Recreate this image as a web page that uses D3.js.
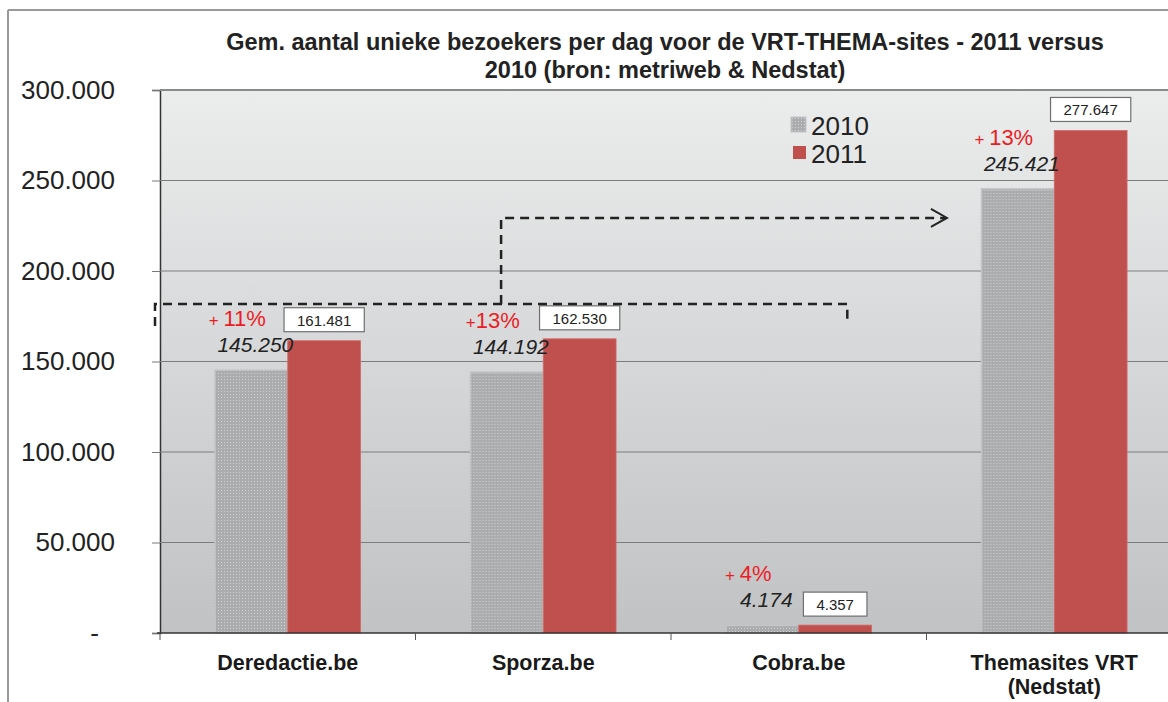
<!DOCTYPE html>
<html>
<head>
<meta charset="utf-8">
<script src="https://cdn.jsdelivr.net/npm/d3@7"></script>
<style>
  html, body { margin: 0; padding: 0; background: #fff; }
  svg { display: block; font-family: "Liberation Sans", Arial, sans-serif; }
</style>
</head>
<body>
<div id="chart"></div>
<script>
(function () {
  'use strict';

  // ── Data ──────────────────────────────────────────────────────────────────
  const CATEGORIES = ['Deredactie.be', 'Sporza.be', 'Cobra.be', 'Themasites VRT\n(Nedstat)'];
  const SERIES = ['2010', '2011'];
  const VALUES_2010 = [145250, 144192, 4174, 245421];
  const VALUES_2011 = [161481, 162530, 4357, 277647];
  const LABELS_2010 = ['145.250', '144.192', '4.174', '245.421'];
  const LABELS_2011 = ['161.481', '162.530', '4.357', '277.647'];
  const GROWTH = ['+ 11%', '+13%', '+ 4%', '+ 13%'];
  const Y_TICKS = [0, 50000, 100000, 150000, 200000, 250000, 300000];
  const Y_TICK_LABELS = ['-', '50.000', '100.000', '150.000', '200.000', '250.000', '300.000'];
  const TITLE = ['Gem. aantal unieke bezoekers per dag voor de VRT-THEMA-sites - 2011 versus',
                 '2010 (bron: metriweb & Nedstat)'];
  // bracket + arrow annotation levels (in data units)
  const BRACKET_LEVEL = 181800;
  const ARROW_LEVEL = 229300;

  const width = 1168, height = 702;
  const margin = { top: 90, left: 160, bottom: 69 };
  const plotRight = 1182;

  const svg = d3.select('#chart').append('svg')
    .attr('width', width).attr('height', height);

  const defs = svg.append('defs');
  const grad = defs.append('linearGradient').attr('id', 'bg')
    .attr('x1', 0).attr('y1', 0).attr('x2', 0).attr('y2', 1);
  grad.append('stop').attr('offset', '0%').attr('stop-color', '#ebecec');
  grad.append('stop').attr('offset', '100%').attr('stop-color', '#c1c2c4');

  const pat = defs.append('pattern').attr('id', 'stipple')
    .attr('width', 3).attr('height', 3).attr('patternUnits', 'userSpaceOnUse');
  pat.append('rect').attr('width', 3).attr('height', 3).attr('fill', '#abacae');
  pat.append('rect').attr('x', 1).attr('y', 1).attr('width', 1).attr('height', 1).attr('fill', '#cfd0d2');

  // ── Scales ────────────────────────────────────────────────────────────────
  const x0 = d3.scaleBand().domain(CATEGORIES).range([margin.left, plotRight]).padding(0);
  const x1 = d3.scaleBand().domain(SERIES).range([x0.bandwidth() * 0.215, x0.bandwidth() * 0.785]).padding(0);
  const y = d3.scaleLinear().domain([0, 300000]).range([height - margin.bottom, margin.top]);
  const zeroY = y(0);

  // outer frame
  svg.append('line').attr('x1', 8).attr('x2', width).attr('y1', 10).attr('y2', 10)
    .attr('stroke', '#9a9a9a').attr('stroke-width', 2);
  svg.append('line').attr('x1', 8).attr('x2', 8).attr('y1', 10).attr('y2', height)
    .attr('stroke', '#9a9a9a').attr('stroke-width', 2);

  // plot background
  svg.append('rect')
    .attr('x', margin.left).attr('y', margin.top)
    .attr('width', plotRight - margin.left).attr('height', zeroY - margin.top)
    .attr('fill', 'url(#bg)');

  // y axis with grid
  const yAxis = svg.append('g')
    .attr('transform', `translate(${margin.left},0)`)
    .call(d3.axisLeft(y).tickValues(Y_TICKS).tickSize(8).tickPadding(37)
      .tickFormat((d, i) => Y_TICK_LABELS[i]));
  yAxis.select('.domain').attr('stroke', '#333').attr('stroke-width', 1.5);
  yAxis.selectAll('.tick line').attr('stroke', '#777');
  yAxis.selectAll('.tick text').attr('font-size', 26).attr('fill', '#222')
    .attr('font-family', '"Liberation Sans", Arial, sans-serif')
    .filter(d => d === 0).attr('dx', -16);

  svg.append('g').selectAll('line').data(Y_TICKS.slice(1)).enter().append('line')
    .attr('x1', margin.left).attr('x2', plotRight)
    .attr('y1', d => y(d)).attr('y2', d => y(d))
    .attr('stroke', d => d === 300000 ? '#8a8a8a' : '#7d7d7d')
    .attr('stroke-width', d => d === 300000 ? 2 : 1);

  // bars
  const rows = CATEGORIES.map((c, i) => ({ cat: c, i, v10: VALUES_2010[i], v11: VALUES_2011[i] }));
  const groups = svg.append('g').selectAll('g').data(rows).enter().append('g')
    .attr('transform', d => `translate(${x0(d.cat)},0)`);

  groups.append('rect')
    .attr('x', x1('2010')).attr('width', x1.bandwidth())
    .attr('y', d => y(d.v10)).attr('height', d => zeroY - y(d.v10))
    .attr('fill', 'url(#stipple)').attr('stroke', '#c4c5c7').attr('stroke-width', 1.5);

  groups.append('rect')
    .attr('x', x1('2011')).attr('width', x1.bandwidth())
    .attr('y', d => y(d.v11)).attr('height', d => zeroY - y(d.v11))
    .attr('fill', '#c0504d').attr('stroke', '#d06a67').attr('stroke-width', 0.8);

  // x axis
  svg.append('line').attr('x1', margin.left - 3).attr('x2', plotRight)
    .attr('y1', zeroY).attr('y2', zeroY).attr('stroke', '#333').attr('stroke-width', 1.5);
  svg.append('g').selectAll('line').data(CATEGORIES).enter().append('line')
    .attr('x1', d => x0(d)).attr('x2', d => x0(d))
    .attr('y1', zeroY).attr('y2', zeroY + 7).attr('stroke', '#555');

  const catText = svg.append('g').selectAll('text').data(CATEGORIES).enter().append('text')
    .attr('x', d => x0(d) + x0.bandwidth() / 2)
    .attr('y', zeroY + 37)
    .attr('text-anchor', 'middle')
    .attr('font-size', 21.5).attr('font-weight', 700).attr('fill', '#1a1a1a');
  catText.each(function (d) {
    d.split('\n').forEach((ln, k) => {
      d3.select(this).append('tspan')
        .attr('x', x0(d) + x0.bandwidth() / 2)
        .attr('dy', k === 0 ? 0 : 24)
        .text(ln);
    });
  });

  // value labels
  groups.append('text')
    .attr('x', x1('2010') + x1.bandwidth() / 2 + 4)
    .attr('y', d => y(d.v10) - 18)
    .attr('text-anchor', 'middle')
    .attr('font-size', 21).attr('font-style', 'italic').attr('fill', '#222')
    .text(d => LABELS_2010[d.i]);

  const pct = groups.append('text')
    .attr('x', x1('2010') + x1.bandwidth() / 2 - 14)
    .attr('y', d => y(d.v10) - 44)
    .attr('text-anchor', 'middle')
    .attr('fill', '#ed1c24');
  pct.append('tspan').attr('font-size', 17).text(d => GROWTH[d.i].match(/^\+\s?/)[0].replace(' ', '\u00a0'));
  pct.append('tspan').attr('font-size', 22).text(d => GROWTH[d.i].replace(/^\+\s?/, ''));

  groups.each(function (d) {
    const g = d3.select(this);
    const cx = x1('2011') + x1.bandwidth() / 2;
    const bottom = y(d.v11) - 9;
    const t = g.append('text')
      .attr('x', cx).attr('y', bottom - 6)
      .attr('text-anchor', 'middle')
      .attr('font-size', 15).attr('fill', '#222')
      .text(LABELS_2011[d.i]);
    const w = t.node().getComputedTextLength() + 26;
    g.append('rect')
      .attr('x', cx - w / 2).attr('y', bottom - 24)
      .attr('width', w).attr('height', 24)
      .attr('fill', '#fff').attr('stroke', '#6f6f6f').attr('stroke-width', 1.2);
    t.raise();
  });

  // dashed bracket and arrow
  const bw = x0.bandwidth();
  const by = y(BRACKET_LEVEL), ay = y(ARROW_LEVEL);
  const leftX = x0(CATEGORIES[0]) - 5;
  const rightX = x0(CATEGORIES[2]) + bw * 0.69;
  const upX = x0(CATEGORIES[1]) + bw * 0.335;
  const tipX = x0(CATEGORIES[3]) + bw * 0.08;
  const dash = { stroke: '#222', width: 2.5, array: '9,6' };

  svg.append('path')
    .attr('d', `M${leftX},${by + 22}V${by}H${rightX}V${by + 18}`)
    .attr('fill', 'none').attr('stroke', dash.stroke)
    .attr('stroke-width', dash.width).attr('stroke-dasharray', dash.array);
  svg.append('path')
    .attr('d', `M${upX},${by}V${ay}H${tipX - 2}`)
    .attr('fill', 'none').attr('stroke', dash.stroke)
    .attr('stroke-width', dash.width).attr('stroke-dasharray', dash.array);
  svg.append('path')
    .attr('d', `M${tipX - 16},${ay - 9}L${tipX},${ay}L${tipX - 16},${ay + 9}`)
    .attr('fill', 'none').attr('stroke', dash.stroke).attr('stroke-width', 2);

  // legend
  const legend = svg.append('g').attr('transform', 'translate(791,117)');
  SERIES.forEach((s, i) => {
    legend.append('rect')
      .attr('x', i === 0 ? 0 : 2).attr('y', i * 28 + (i === 0 ? 0 : 1))
      .attr('width', i === 0 ? 15 : 13).attr('height', i === 0 ? 15 : 13)
      .attr('fill', i === 0 ? 'url(#stipple)' : '#c0504d')
      .attr('stroke', i === 0 ? '#c4c5c7' : 'none');
    legend.append('text')
      .attr('x', 20).attr('y', i * 28 + 18)
      .attr('font-size', 26).attr('fill', '#222')
      .text(s);
  });

  // title
  svg.append('g').selectAll('text').data(TITLE).enter().append('text')
    .attr('x', 665).attr('y', (d, i) => 50 + i * 28)
    .attr('text-anchor', 'middle')
    .attr('font-size', 23.5).attr('font-weight', 700).attr('fill', '#222')
    .text(d => d);
})();
</script>
</body>
</html>
